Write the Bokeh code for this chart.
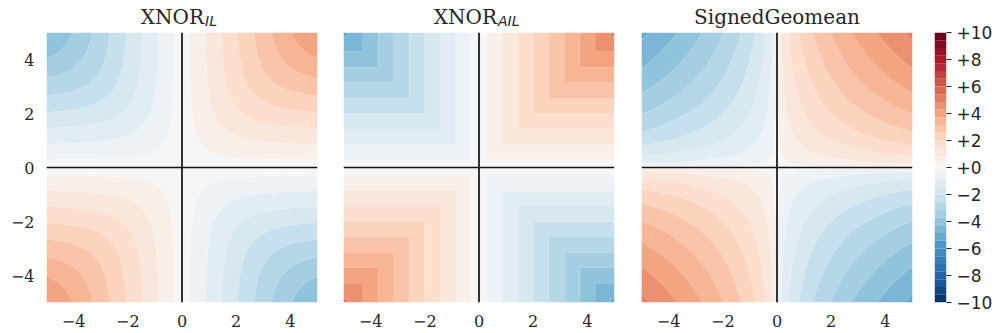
import numpy as np
from bokeh.plotting import figure
from bokeh.layouts import row, column
from bokeh.models import Span, FixedTicker, CustomJSTickFormatter
from bokeh.core.properties import value
from bokeh.embed import file_html
from bokeh.resources import INLINE

# ---------------- data ----------------
x_vals = np.linspace(-5, 5, 301)
y_vals = np.linspace(-5, 5, 301)
levels = np.linspace(-10, 10, 36)
axis_ticks = [-4, -2, 0, 2, 4]
cbar_ticks = [-10, -8, -6, -4, -2, 0, 2, 4, 6, 8, 10]
titles = ["XNOR", "XNOR", "SignedGeomean"]
subscripts = ["IL", "AIL", ""]
rdbu_anchors = ["#67001f", "#b2182b", "#d6604d", "#f4a582", "#fddbc7", "#f7f7f7",
                "#d1e5f0", "#92c5de", "#4393c3", "#2166ac", "#053061"]

X, Y = np.meshgrid(x_vals, y_vals)


def log_sigmoid(v):
    return -np.logaddexp(0.0, -v)


def xnor_il(a, b):
    same = np.logaddexp(log_sigmoid(a) + log_sigmoid(b), log_sigmoid(-a) + log_sigmoid(-b))
    diff = np.logaddexp(log_sigmoid(a) + log_sigmoid(-b), log_sigmoid(-a) + log_sigmoid(b))
    return same - diff


def xnor_ail(a, b):
    return np.sign(a * b) * np.minimum(np.abs(a), np.abs(b))


def signed_geomean(a, b):
    return np.sign(a * b) * np.sqrt(np.abs(a * b))


fields = [xnor_il(X, Y), xnor_ail(X, Y), signed_geomean(X, Y)]

# ---------------- colormap (RdBu reversed, 256-entry LUT) ----------------
def hex2rgb(h):
    return np.array([int(h[i:i + 2], 16) for i in (1, 3, 5)], dtype=float)


anchors_r = [hex2rgb(h) for h in rdbu_anchors[::-1]]


def rdbu_r(t):
    idx = min(max(int(t * 256), 0), 255)
    u = idx / 255.0
    pos = u * 10
    i = min(int(pos), 9)
    f = pos - i
    c = anchors_r[i] * (1 - f) + anchors_r[i + 1] * f
    return "#%02x%02x%02x" % tuple(int(round(v)) for v in c)


mids = 0.5 * (levels[:-1] + levels[1:])
band_colors = [rdbu_r((m - levels[0]) / (levels[-1] - levels[0])) for m in mids]

TXT = "#262626"

tick_fmt = CustomJSTickFormatter(code="return tick < 0 ? '\u2212' + Math.abs(tick) : String(tick);")
cbar_fmt = CustomJSTickFormatter(code="return (tick < 0 ? '\u2212' : '+') + Math.abs(tick);")


def strip_fig(left, right, x_range):
    t = figure(frame_width=271, frame_height=32,
               min_border=0, min_border_left=left, min_border_right=right,
               x_range=x_range, y_range=(0, 32),
               output_backend="svg", toolbar_location=None,
               x_axis_location=None, y_axis_location=None)
    t.grid.visible = False
    t.outline_line_color = None
    return t


def make_panel(z, left, right, show_y, title, sub, dx):
    p = figure(frame_width=271, frame_height=270,
               min_border=0, min_border_left=left, min_border_right=right,
               min_border_top=0, min_border_bottom=31,
               x_range=(-5, 5), y_range=(-5, 5),
               output_backend="svg", toolbar_location=None,
               y_axis_location="left" if show_y else None)
    p.contour(x_vals, y_vals, z, levels=levels, fill_color=band_colors)
    p.grid.visible = False
    p.outline_line_color = None
    axes = [p.xaxis[0]] + ([p.yaxis[0]] if show_y else [])
    for ax in axes:
        ax.ticker = FixedTicker(ticks=axis_ticks)
        ax.formatter = tick_fmt
        ax.major_label_text_font = "DejaVu Serif"
        ax.major_label_text_font_size = "16px"
        ax.major_label_text_color = TXT
        ax.major_tick_in = 0
        ax.major_tick_out = 0
        ax.minor_tick_in = 0
        ax.minor_tick_out = 0
        ax.axis_line_color = None
        ax.major_label_standoff = 12
    p.add_layout(Span(location=0, dimension="height", line_color="#111111", line_width=1.7))
    p.add_layout(Span(location=0, dimension="width", line_color="#111111", line_width=1.7))

    t = strip_fig(left, right, p.x_range)
    if sub:
        t.text(x=[0], y=[16], text=[title], text_align="right", text_baseline="alphabetic",
               x_offset=dx, text_font=value("DejaVu Serif"), text_font_size="20px",
               text_color=TXT)
        t.text(x=[0], y=[12], text=[sub], text_align="left", text_baseline="alphabetic",
               x_offset=dx + 1, text_font=value("DejaVu Sans"), text_font_style="italic",
               text_font_size="14px", text_color=TXT)
    else:
        t.text(x=[0], y=[16], text=[title], text_align="center", text_baseline="alphabetic",
               text_font=value("DejaVu Serif"), text_font_size="20px", text_color=TXT)
    return column(t, p, spacing=0)


c1 = make_panel(fields[0], 46, 13, True, titles[0], subscripts[0], 22)
c2 = make_panel(fields[1], 13, 13, False, titles[1], subscripts[1], 18)
c3 = make_panel(fields[2], 14, 10, False, titles[2], subscripts[2], 0)

cb = figure(frame_width=12, frame_height=270,
            min_border=0, min_border_left=12, min_border_right=52,
            min_border_top=32, min_border_bottom=31,
            x_range=(0, 1), y_range=(levels[0], levels[-1]),
            output_backend="svg", toolbar_location=None,
            x_axis_location=None, y_axis_location="right")
cb.quad(left=0, right=1, bottom=levels[:-1], top=levels[1:], fill_color=band_colors, line_color=None)
cb.grid.visible = False
cb.outline_line_color = None
ax = cb.yaxis[0]
ax.ticker = FixedTicker(ticks=cbar_ticks)
ax.formatter = cbar_fmt
ax.major_label_text_font = "DejaVu Sans"
ax.major_label_text_font_size = "17px"
ax.major_label_text_color = TXT
ax.major_tick_in = 0
ax.major_tick_out = 5
ax.major_tick_line_color = TXT
ax.minor_tick_in = 0
ax.minor_tick_out = 0
ax.axis_line_color = None
ax.major_label_standoff = 5

layout = row(c1, c2, c3, cb, spacing=0)

open("out.html", "w").write(file_html(layout, INLINE))
